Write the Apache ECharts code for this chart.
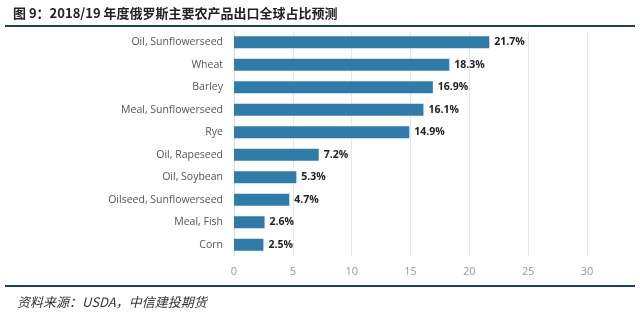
<!DOCTYPE html>
<html>
<head>
<meta charset="utf-8">
<script src="https://cdn.jsdelivr.net/npm/echarts@6/dist/echarts.min.js"></script>
<style>
  html, body { margin: 0; padding: 0; background: #fff; }
  #chart { width: 640px; height: 317px; }
</style>
</head>
<body>
<div id="chart"></div>
<script>
const chart = echarts.init(document.getElementById('chart'));

// top to bottom as in the picture
const categories = [
  'Oil, Sunflowerseed', 'Wheat', 'Barley', 'Meal, Sunflowerseed', 'Rye',
  'Oil, Rapeseed', 'Oil, Soybean', 'Oilseed, Sunflowerseed', 'Meal, Fish', 'Corn'
];
const shares = [21.7, 18.3, 16.9, 16.1, 14.9, 7.2, 5.3, 4.7, 2.6, 2.5];
const xTicks = [0, 5, 10, 15, 20, 25, 30];

const titleText = '图 9：2018/19 年度俄罗斯主要农产品出口全球占比预测';
const sourceText = '资料来源：USDA，中信建投期货';

const option = {
  animation: false,
  grid: { left: 234, right: 53, top: 31, bottom: 61 },
  xAxis: {
    type: 'value',
    min: xTicks[0],
    max: xTicks[xTicks.length - 1],
    interval: 5,
    axisLine: { show: false },
    axisTick: { show: false },
    axisLabel: { color: '#999', fontSize: 11, margin: 10, fontFamily: 'Open Sans' },
    splitLine: { lineStyle: { color: '#e8e8e8' } }
  },
  yAxis: {
    type: 'category',
    data: categories,
    inverse: true,
    axisLine: { lineStyle: { color: '#dcdcdc' } },
    axisTick: { lineStyle: { color: '#dcdcdc' }, length: 6 },
    axisLabel: { color: '#555', fontSize: 10.5, margin: 11, fontFamily: 'Open Sans' }
  },
  series: [{
    type: 'bar',
    data: shares,
    barWidth: 12,
    itemStyle: { color: '#2f7cab' },
    label: {
      show: true,
      position: 'right',
      distance: 5,
      color: '#222',
      fontSize: 10.5,
      fontWeight: 'bold',
      fontFamily: 'Open Sans',
      formatter: (p) => p.value.toFixed(1) + '%'
    }
  }],
  graphic: [
    {
      type: 'text', left: 13, top: 7,
      style: { text: titleText, fontSize: 13, fontWeight: 'bold', fill: '#222', fontFamily: 'Noto Sans CJK SC' }
    },
    {
      type: 'rect', shape: { x: 5, y: 25, width: 630, height: 2 },
      style: { fill: '#1d3f66' }
    },
    {
      type: 'rect', shape: { x: 5, y: 285, width: 630, height: 2 },
      style: { fill: '#1d3f66' }
    },
    {
      type: 'text', left: 17, top: 296,
      style: { text: sourceText, fontSize: 13, fontStyle: 'italic', fill: '#333', fontFamily: 'Noto Sans CJK SC' }
    }
  ]
};

chart.setOption(option);

window.addEventListener('resize', () => {
  chart.resize();
});
</script>
</body>
</html>
